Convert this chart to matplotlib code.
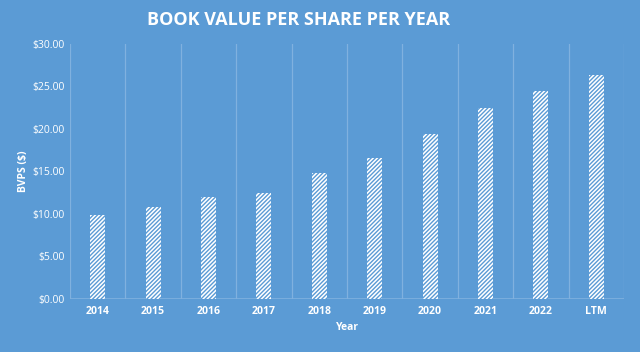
import matplotlib
matplotlib.use("Agg")
import matplotlib.pyplot as plt
import numpy as np

categories = ["2014", "2015", "2016", "2017", "2018", "2019", "2020", "2021", "2022", "LTM"]
bvps = [9.9, 10.85, 12.05, 12.5, 14.86, 16.55, 19.4, 22.5, 24.5, 26.4]
yticks = [0, 5, 10, 15, 20, 25, 30]
ytick_labels = ["$0.00", "$5.00", "$10.00", "$15.00", "$20.00", "$25.00", "$30.00"]

BG = "#5B9BD5"
GRID = "#80B1DF"
plt.rcParams['hatch.linewidth'] = 1.0
plt.rcParams['font.family'] = ['Open Sans', 'DejaVu Sans']

fig = plt.figure(figsize=(6.4, 3.52), dpi=100, facecolor=BG)
ax = fig.add_axes([0.1094, 0.1506, 0.8656, 0.7244])
ax.set_facecolor(BG)

x = np.arange(len(categories))
ax.bar(x, bvps, width=0.27, color="white", edgecolor=BG, hatch="////////", linewidth=0, zorder=3)

ax.set_xlim(-0.5, len(categories) - 0.5)
ax.set_ylim(0, 30)
for b in np.arange(-0.5, len(categories) + 0.5, 1):
    ax.axvline(b, color=GRID, linewidth=0.9, zorder=1)

for s in ax.spines.values():
    s.set_visible(False)
ax.axhline(0, color=GRID, linewidth=1.2, zorder=2)

ax.set_yticks(yticks)
ax.set_yticklabels(ytick_labels, color="white", fontsize=7.5)
ax.set_xticks(x)
ax.set_xticklabels(categories, color="white", fontsize=7.6, fontweight="bold")
ax.tick_params(axis="both", length=0, pad=5)
ax.tick_params(axis="y", pad=4)

ax.set_xlabel("Year", color="white", fontsize=7.5, fontweight="bold", labelpad=4)
ax.set_ylabel("BVPS ($)", color="white", fontsize=7.5, fontweight="bold", labelpad=2)

fig.text(0.5 * (142 + 455) / 640, 1 - 20 / 352, "BOOK VALUE PER SHARE PER YEAR", color="white",
         fontsize=13, fontweight="bold", ha="center", va="center")

fig.savefig("out.png", dpi=100, facecolor=BG)
